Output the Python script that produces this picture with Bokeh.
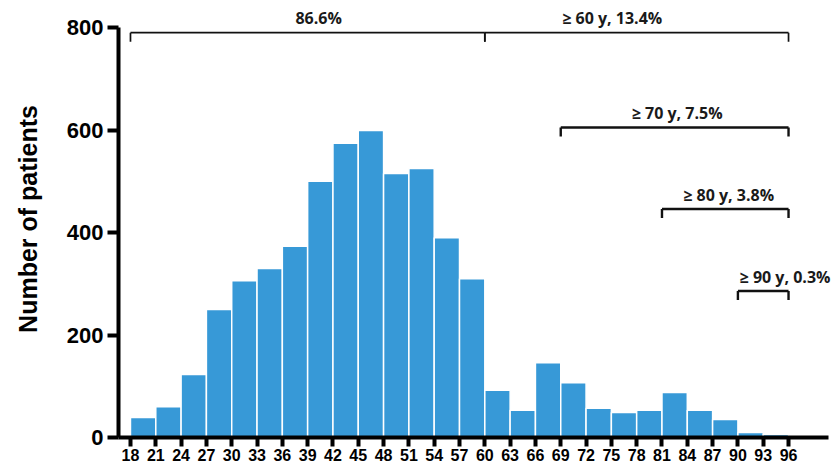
from bokeh.plotting import figure
from bokeh.models import Range1d, FixedTicker, ColumnDataSource
from bokeh.core.properties import value
from bokeh.embed import file_html
from bokeh.resources import INLINE

# ---- data ----
bin_starts = [18, 21, 24, 27, 30, 33, 36, 39, 42, 45, 48, 51, 54, 57,
              60, 63, 66, 69, 72, 75, 78, 81, 84, 87, 90, 93]
bin_width = 3
counts = [39, 60, 123, 250, 306, 330, 373, 500, 574, 599, 515, 525, 390, 310,
          92, 53, 146, 107, 57, 49, 53, 88, 53, 35, 10, 6]
x_ticks = [18, 21, 24, 27, 30, 33, 36, 39, 42, 45, 48, 51, 54, 57, 60, 63, 66,
           69, 72, 75, 78, 81, 84, 87, 90, 93, 96]
y_ticks = [0, 200, 400, 600, 800]

# brackets: start age, end age, level (in patients units)
br_start = [18, 60, 69, 81, 90]
br_end = [60, 96, 96, 96, 96]
br_level = [790, 790, 605, 446, 286]
br_labels = ["86.6%", "\u2265 60 y, 13.4%", "\u2265 70 y, 7.5%", "\u2265 80 y, 3.8%", "\u2265 90 y, 0.3%"]
lab_x = [40.3, 75.1, 82.8, 88.9, 90.2]
lab_y = [819, 819, 633, 474, 313]

BAR = "#3799D7"
FONT = "Liberation Sans"
X0, X1, XB = 16.58, 101.33, 100.74
Y1 = 852.7

p = figure(width=833, height=468, output_backend="svg", toolbar_location=None,
           x_range=Range1d(X0, X1), y_range=Range1d(0, Y1),
           min_border_left=118, min_border_right=0, min_border_top=0,
           min_border_bottom=31)
p.outline_line_color = None
p.xgrid.visible = False
p.ygrid.visible = False
p.background_fill_color = "white"
p.border_fill_color = "white"

src = ColumnDataSource(dict(left=bin_starts,
                            right=[b + bin_width for b in bin_starts],
                            top=counts))
p.quad(left="left", right="right", bottom=0, top="top", source=src,
       fill_color=BAR, line_color="white", line_width=1.5)

# brackets
drop = 17.6
x0s, y0s, x1s, y1s, lws = [], [], [], [], []
for s, e, lv in zip(br_start, br_end, br_level):
    lw = 1.7 if lv > 700 else 2.4
    for (a, b, c, d) in [(s, lv, e, lv), (s, lv, s, lv - drop), (e, lv, e, lv - drop)]:
        x0s.append(a); y0s.append(b); x1s.append(c); y1s.append(d); lws.append(lw)
p.segment(x0=x0s, y0=y0s, x1=x1s, y1=y1s, line_color="#111111", line_width=lws)

p.text(x=lab_x[:4], y=lab_y[:4], text=br_labels[:4], text_font=value("Open Sans"),
       text_font_style="bold", text_font_size="16px", text_align="center",
       text_baseline="middle", text_color="#1a1a1a")
p.text(x=lab_x[4:], y=lab_y[4:], text=br_labels[4:], text_font=value("Open Sans"),
       text_font_style="bold", text_font_size="16px", text_align="left",
       text_baseline="middle", text_color="#1a1a1a")

# axes
xa = p.xaxis[0]
xa.ticker = FixedTicker(ticks=x_ticks)
xa.bounds = (X0, XB)
xa.axis_label_standoff = 0
ya = p.yaxis[0]
ya.ticker = FixedTicker(ticks=y_ticks)
ya.bounds = (0, 800)
ya.axis_label = "Number of patients"
ya.axis_label_text_font = FONT
ya.axis_label_text_font_style = "bold"
ya.axis_label_text_font_size = "25px"
ya.axis_label_text_color = "black"
ya.axis_label_standoff = 22
ya.major_label_text_font_size = "22px"
xa.major_label_text_font_size = "16px"

for ax in (xa, ya):
    ax.axis_line_width = 4
    ax.axis_line_color = "black"
    ax.major_tick_line_width = 4
    ax.major_tick_line_color = "black"
    ax.major_tick_in = 0
    ax.minor_tick_line_color = None
    ax.major_label_text_font = FONT
    ax.major_label_text_font_style = "bold"
    ax.major_label_text_color = "black"
xa.major_tick_out = 9
xa.major_label_standoff = 2
ya.major_tick_out = 11
ya.major_label_standoff = 4

open("out.html", "w").write(file_html(p, INLINE))
